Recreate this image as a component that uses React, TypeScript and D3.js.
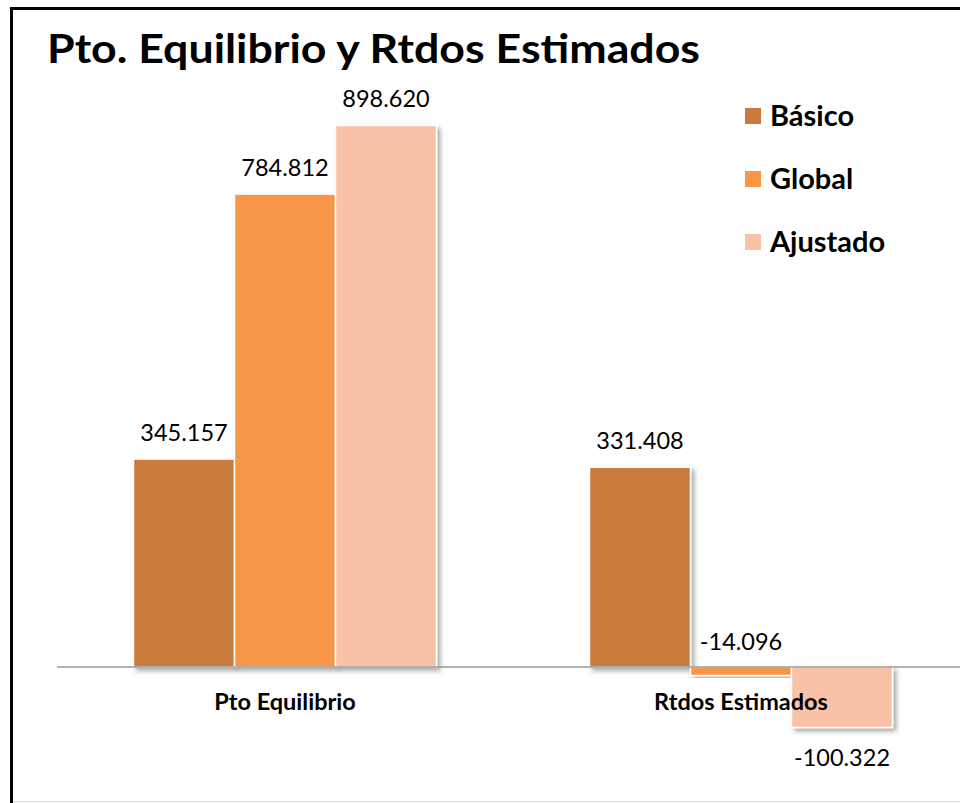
import * as d3 from 'd3';
import { useMemo } from 'react';

const categories = ['Pto Equilibrio', 'Rtdos Estimados'];
const seriesNames = ['Básico', 'Global', 'Ajustado'];
const basico = [345.157, 331.408];
const global = [784.812, -14.096];
const ajustado = [898.62, -100.322];
const seriesColors = ['#CA7B3C', '#F79646', '#F9C2A7'];
const title = 'Pto. Equilibrio y Rtdos Estimados';

const WIDTH = 960;
const HEIGHT = 803;
const PLOT = { left: 57, right: 969, zeroY: 667 };
const FONT = 'Lato, "Open Sans", sans-serif';

const fmt = (v: number) => {
    const s = Math.abs(v).toFixed(3);
    return (v < 0 ? '-' : '') + s;
};

export default function App() {
    const series = [basico, global, ajustado];

    const xScale = useMemo(
        () =>
            d3
                .scaleBand<string>()
                .domain(categories)
                .range([PLOT.left, PLOT.right])
                .paddingInner(0.3355)
                .paddingOuter(0.1678),
        []
    );

    const xSub = useMemo(
        () =>
            d3
                .scaleBand<string>()
                .domain(seriesNames)
                .range([0, xScale.bandwidth()])
                .padding(0),
        [xScale]
    );

    // 0.6026 px per unit, zero at PLOT.zeroY
    const yScale = useMemo(
        () =>
            d3
                .scaleLinear()
                .domain([-200, 1000])
                .range([PLOT.zeroY + 200 * 0.6026, PLOT.zeroY - 1000 * 0.6026]),
        []
    );

    const y0 = yScale(0);

    return (
        <svg
            width={WIDTH}
            height={HEIGHT}
            style={{ position: 'absolute', left: 0, top: 0, display: 'block', background: '#fff' }}
        >
            <defs>
                <filter id="shadow" x="-10%" y="-10%" width="130%" height="130%">
                    <feDropShadow dx="3" dy="3" stdDeviation="2.5" floodColor="#000" floodOpacity="0.35" />
                </filter>
            </defs>

            {/* frame */}
            <line x1={11.5} x2={WIDTH} y1={8.5} y2={8.5} stroke="#000" strokeWidth={3} />
            <line x1={11.5} x2={11.5} y1={7} y2={HEIGHT} stroke="#000" strokeWidth={3} />
            <line x1={13} x2={WIDTH} y1={801.5} y2={801.5} stroke="#ddd" strokeWidth={1} />

            <text
                x={47}
                y={63}
                fontFamily={FONT}
                fontWeight={700}
                fontSize={40}
                textLength={653}
                lengthAdjust="spacingAndGlyphs"
                fill="#000"
            >
                {title}
            </text>

            {/* bars */}
            {series.map((vals, si) =>
                vals.map((v, ci) => {
                    const x = (xScale(categories[ci]) ?? 0) + (xSub(seriesNames[si]) ?? 0);
                    const yv = yScale(v);
                    return (
                        <rect
                            key={`${si}-${ci}`}
                            x={x}
                            y={Math.min(yv, y0)}
                            width={xSub.bandwidth()}
                            height={Math.abs(yv - y0)}
                            fill={seriesColors[si]}
                            stroke="#fff"
                            strokeWidth={1.5}
                            filter="url(#shadow)"
                        />
                    );
                })
            )}

            {/* zero axis */}
            <line x1={PLOT.left} x2={WIDTH} y1={y0} y2={y0} stroke="#999" strokeWidth={1.5} />

            {/* value labels */}
            {series.map((vals, si) =>
                vals.map((v, ci) => {
                    const cx = (xScale(categories[ci]) ?? 0) + (xSub(seriesNames[si]) ?? 0) + xSub.bandwidth() / 2;
                    const yv = yScale(v);
                    let ty: number;
                    if (v >= 0) ty = yv - 18;
                    else if (y0 - yv > -20) ty = y0 - 17; // small negative: above axis
                    else ty = yv + 39;
                    return (
                        <text
                            key={`l-${si}-${ci}`}
                            x={cx}
                            y={ty}
                            textAnchor="middle"
                            fontFamily={FONT}
                            fontSize={23.5}
                            fill="#000"
                        >
                            {fmt(v)}
                        </text>
                    );
                })
            )}

            {/* category labels */}
            {categories.map((c) => (
                <text
                    key={c}
                    x={(xScale(c) ?? 0) + xScale.bandwidth() / 2}
                    y={710}
                    textAnchor="middle"
                    fontFamily={FONT}
                    fontWeight={700}
                    fontSize={23.5}
                    fill="#000"
                >
                    {c}
                </text>
            ))}

            {/* legend */}
            {seriesNames.map((s, i) => (
                <g key={s} transform={`translate(745, ${108 + i * 63})`}>
                    <rect x={0} y={0} width={16} height={16} fill={seriesColors[i]} />
                    <text x={25} y={18} fontFamily={FONT} fontWeight={700} fontSize={29} fill="#000">
                        {s}
                    </text>
                </g>
            ))}
        </svg>
    );
}
